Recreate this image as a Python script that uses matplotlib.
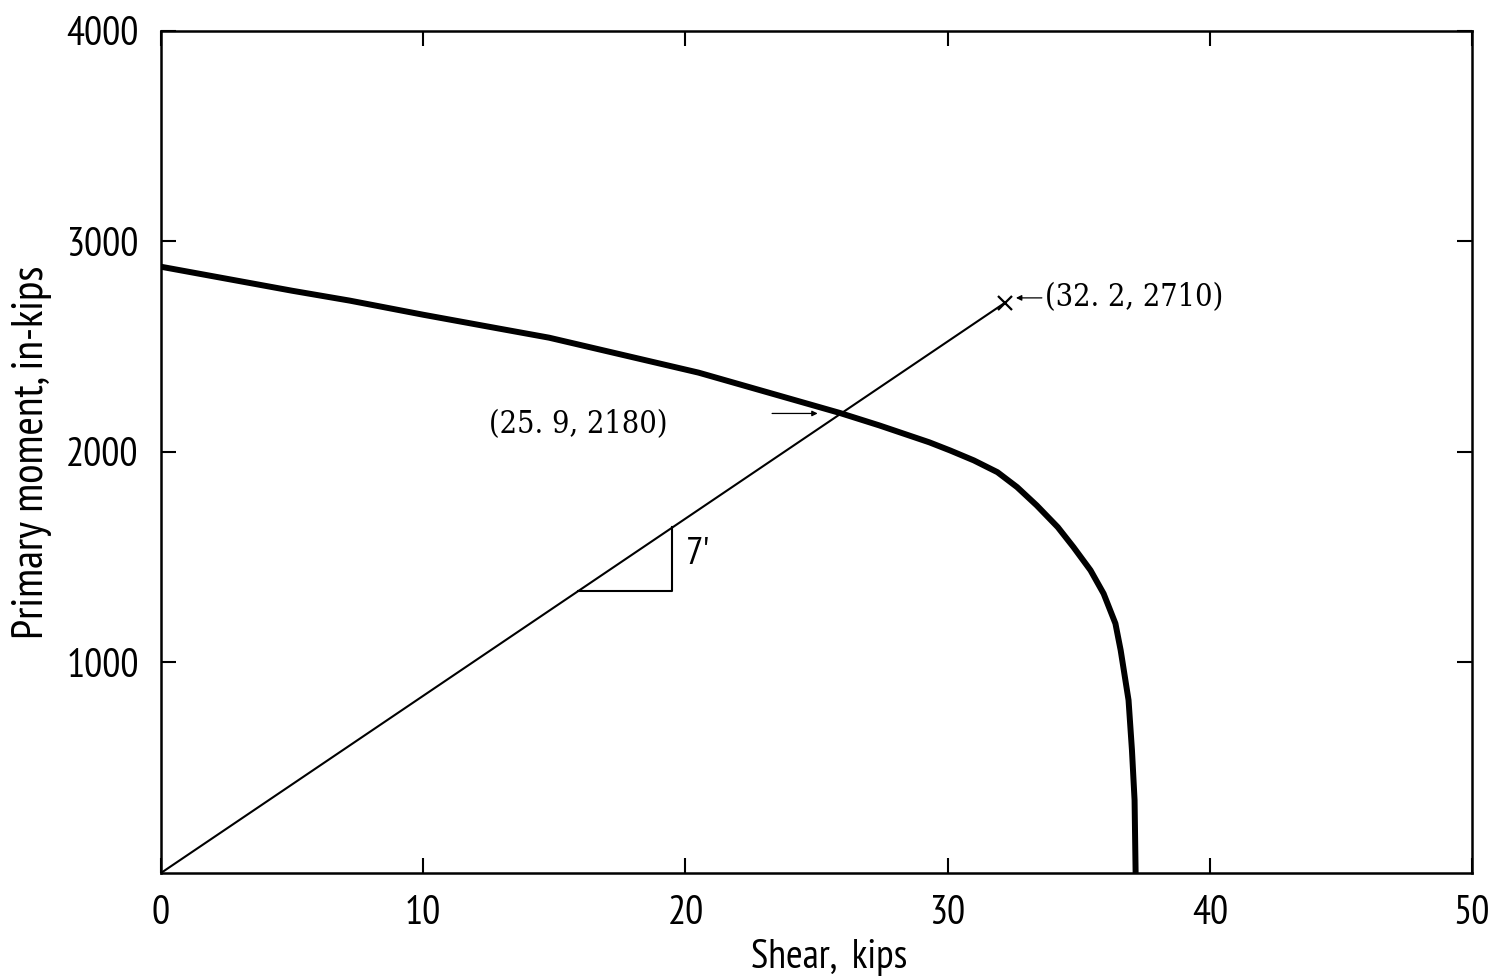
import matplotlib
matplotlib.use("Agg")
import matplotlib.pyplot as plt

# Interaction curve: shear (kips) vs. primary moment (in-kips)
curve_shear = [0.0, 5.0, 7.2, 10.0, 12.9, 14.8, 20.5, 25.9, 27.4, 29.3,
               30.1, 31.0, 31.9, 32.65, 33.4, 34.2, 34.8, 35.45, 35.95,
               36.4, 36.6, 36.9, 37.03, 37.13, 37.17]
curve_moment = [2880, 2766, 2719, 2652, 2586, 2543, 2377, 2185, 2126, 2046,
                2007, 1960, 1904, 1833, 1746, 1643, 1548, 1438, 1327,
                1185, 1058, 821, 584, 346, 0]

# Load line from the origin to the failure point
load_shear = [0.0, 32.2]
load_moment = [0, 2710]

# Slope triangle on the load line
tri_shear = [15.9, 19.5]
tri_moment = [1340, 1642]
tri_label = "7'"

# Marked points
intersect_pt = (25.9, 2180)
failure_pt = (32.2, 2710)

x_ticks = [0, 10, 20, 30, 40, 50]
y_ticks = [1000, 2000, 3000, 4000]

sans = ["PT Sans Narrow", "DejaVu Sans"]
serif_kw = dict(family=["DejaVu Serif"], stretch="condensed")

fig = plt.figure(figsize=(15.03, 9.80), dpi=100)
ax = fig.add_axes([0.1071, 0.1092, 0.9794 - 0.1071, 0.9684 - 0.1092])

ax.plot(curve_shear, curve_moment, color="black", lw=4.3,
        solid_capstyle="butt", solid_joinstyle="round")
ax.plot(load_shear, load_moment, color="black", lw=1.5)
ax.plot([failure_pt[0]], [failure_pt[1]], marker="x", color="black",
        markersize=10, mew=1.6)

# slope triangle
ax.plot([tri_shear[0], tri_shear[1], tri_shear[1]],
        [tri_moment[0], tri_moment[0], tri_moment[1]],
        color="black", lw=1.5)
ax.text(tri_shear[1] + 0.5, (tri_moment[0] + tri_moment[1]) / 2 + 20, tri_label,
        family=sans, fontsize=28, va="center", ha="left")


def point_label(pt):
    return f"({pt[0]:.1f}, {pt[1]})".replace(".", ". ")


# intersection annotation
ax.annotate("", xy=(intersect_pt[0] - 0.75, intersect_pt[1] + 3),
            xytext=(intersect_pt[0] - 2.7, intersect_pt[1] + 3),
            arrowprops=dict(arrowstyle="-|>", color="black", lw=0.9,
                            mutation_scale=8))
ax.text(12.5, 2130, point_label(intersect_pt),
        fontsize=22, va="center", ha="left", **serif_kw)

# failure point annotation
ax.annotate("", xy=(failure_pt[0] + 0.3, failure_pt[1] + 22),
            xytext=(failure_pt[0] + 1.5, failure_pt[1] + 22),
            arrowprops=dict(arrowstyle="-|>", color="black", lw=0.9,
                            mutation_scale=8))
ax.text(failure_pt[0] + 1.5, failure_pt[1] + 22, point_label(failure_pt),
        fontsize=22, va="center", ha="left", **serif_kw)

ax.set_xlim(0, 50)
ax.set_ylim(0, 4000)
ax.set_xticks(x_ticks)
ax.set_yticks(y_ticks)
ax.set_xticklabels([str(v) for v in x_ticks], family=sans, fontsize=29)
ax.set_yticklabels([str(v) for v in y_ticks], family=sans, fontsize=29)
ax.tick_params(direction="in", length=11, width=1.5, top=True, right=True,
               labeltop=False, labelright=False)
ax.tick_params(axis="x", pad=16)
ax.tick_params(axis="y", pad=16)
for s in ax.spines.values():
    s.set_linewidth(1.8)

ax.set_xlabel("Shear,  kips", family=sans, fontsize=29)
ax.set_ylabel("Primary moment, in-kips", family=sans, fontsize=32)
ax.xaxis.set_label_coords(0.51, -0.078)
ax.yaxis.set_label_coords(-0.083, 0.5)

fig.savefig("out.png", dpi=100)
